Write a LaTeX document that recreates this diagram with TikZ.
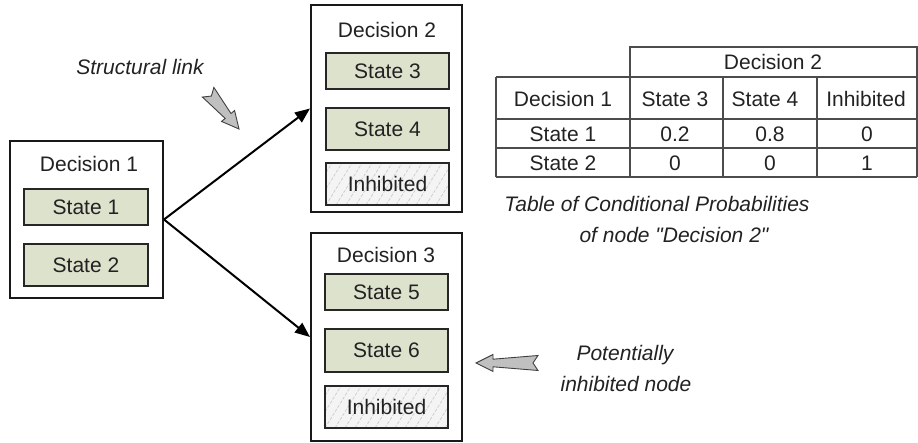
\documentclass[tikz,border=0pt]{standalone}
\usepackage{fontspec}
\setmainfont{Liberation Sans}
\usetikzlibrary{fit,arrows.meta}
\definecolor{stategreen}{RGB}{221,226,205}
\definecolor{inhfill}{RGB}{244,244,244}
\definecolor{txt}{RGB}{34,34,34}
\definecolor{arrowgray}{RGB}{192,192,192}
\tikzset{
  every node/.style={font=\fontsize{10.5}{12.6}\selectfont, text=txt},
  outerbox/.style={draw=black!90, line width=1pt, inner sep=0pt, fill=white},
  statebox/.style={draw=black!85, line width=1pt, inner sep=0pt, fill=stategreen},
  hatchline/.style={draw=gray!40, line width=0.35pt, dash pattern=on 1.6pt off 0.8pt},
  inhibbox/.style={draw=black!85, line width=1pt, inner sep=0pt, fill=inhfill,
    path picture={\foreach \k in {-4,...,13}
      \draw[hatchline] ([xshift=\k*5pt]path picture bounding box.south west) -- ++(13pt,21pt);}},
  conn/.style={draw=black, line width=1pt, -{Triangle[length=7.5pt,width=6pt]}},
  tline/.style={draw=black!70, line width=0.6pt},
  note/.style={font=\fontsize{10.5}{12.6}\selectfont\itshape},
  grayarrow/.style={fill=arrowgray, draw=black!75, line width=0.45pt, line join=miter}
}
\newcommand{\blockarrow}[4]{%
  \draw[grayarrow, shift={(#1,#2)}, rotate=#3]
    (0,0) -- (17,-8.5) -- (17,-3.8) -- (#4,-7.5) -- ({#4-5},0) -- (#4,7.5) -- (17,3.8) -- (17,8.5) -- cycle;}
\begin{document}
\begin{tikzpicture}[x=0.5pt,y=-0.5pt]
\useasboundingbox (0,0) rectangle (918,443);

% Decision 1
\node[outerbox, fit={(10,141)(163,298)}] (d1) {};
\node (d1t) at (89,164) {Decision 1};
\node[statebox, fit={(24,189)(148,225)}, label=center:{State 1}] (s1) {};
\node[statebox, fit={(24,244)(148,286)}, label=center:{State 2}] (s2) {};

% Decision 2
\node[outerbox, fit={(311,5)(462,212)}] (d2) {};
\node (d2t) at (387,30) {Decision 2};
\node[statebox, fit={(326,53)(449,89)}, label=center:{State 3}] (s3) {};
\node[statebox, fit={(326,108)(449,150)}, label=center:{State 4}] (s4) {};
\node[inhibbox, fit={(326,163)(449,205)}, label=center:{Inhibited}] (i2) {};

% Decision 3
\node[outerbox, fit={(311,233)(462,441)}] (d3) {};
\node (d3t) at (386,255) {Decision 3};
\node[statebox, fit={(325,274)(448,310)}, label=center:{State 5}] (s5) {};
\node[statebox, fit={(325,329)(448,372)}, label=center:{State 6}] (s6) {};
\node[inhibbox, fit={(325,386)(448,428)}, label=center:{Inhibited}] (i3) {};

% connectors
\draw[conn] (d1.east) -- (d2.west);
\draw[conn] (d1.east) -- (d3.west);

% notes
\node[note] (sl) at (140,67) {Structural link};
\blockarrow{239}{129}{130}{48}
\node[note] (pi1) at (625,355) {Potentially};
\node[note] (pi2) at (626,384) {inhibited node};
\blockarrow{476}{363}{0}{62}

% table
\draw[tline] (630,77) -- (630,47) -- (917,47) -- (917,177);
\draw[tline] (496,77) -- (917,77);
\draw[tline] (496,119) -- (917,119);
\draw[tline] (496,148) -- (917,148);
\draw[tline] (496,177) -- (917,177);
\draw[tline] (496,77) -- (496,177);
\draw[tline] (630,77) -- (630,177);
\draw[tline] (723,77) -- (723,177);
\draw[tline] (817,77) -- (817,177);
\node (th) at (773,62) {Decision 2};
\node (tr0) at (563,99) {Decision 1};
\node (tc3) at (675,99) {State 3};
\node (tc4) at (765,99) {State 4};
\node (tci) at (866,99) {Inhibited};
\node (tr1) at (563,134) {State 1};
\node (v13) at (675,134) {0.2};
\node (v14) at (770,134) {0.8};
\node (v1i) at (867,134) {0};
\node (tr2) at (563,163) {State 2};
\node (v23) at (675,163) {0};
\node (v24) at (770,163) {0};
\node (v2i) at (867,163) {1};
\node[note] (cap1) at (657,204) {Table of Conditional Probabilities};
\node[note] (cap2) at (674,235) {of node \textquotedbl Decision 2\textquotedbl};
\end{tikzpicture}
\end{document}
